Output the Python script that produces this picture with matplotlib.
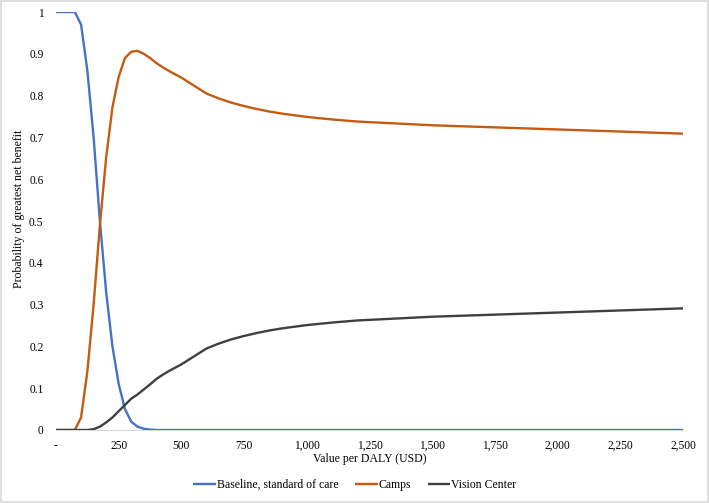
import matplotlib
matplotlib.use("Agg")
import matplotlib.pyplot as plt
from matplotlib.ticker import FuncFormatter
from matplotlib.patches import Rectangle

plt.rcParams['font.family'] = ['Liberation Serif', 'DejaVu Serif']

value_per_daly = [0, 25, 50, 75, 100, 125, 150, 175, 200, 225, 250, 275, 300, 325, 350,
                  375, 400, 425, 450, 475, 500, 550, 600, 650, 700, 750, 800, 850, 900,
                  950, 1000, 1100, 1200, 1300, 1400, 1500, 1600, 1700, 1800, 1900, 2000,
                  2100, 2200, 2300, 2400, 2500]

baseline = [1, 1, 1, 1, 0.97, 0.86, 0.70, 0.50, 0.33, 0.20, 0.11, 0.05, 0.02, 0.008, 0.003,
            0.001, 0, 0, 0, 0, 0, 0, 0, 0, 0, 0, 0, 0, 0,
            0, 0, 0, 0, 0, 0, 0, 0, 0, 0, 0, 0,
            0, 0, 0, 0, 0]

camps = [0, 0, 0, 0, 0.03, 0.14, 0.30, 0.49, 0.652, 0.772, 0.845, 0.89, 0.905, 0.907, 0.90,
         0.89, 0.878, 0.868, 0.859, 0.851, 0.843, 0.824, 0.805, 0.793, 0.783, 0.775, 0.768,
         0.762, 0.757, 0.753, 0.749, 0.743, 0.738, 0.735, 0.732, 0.729, 0.727, 0.725,
         0.723, 0.721, 0.719, 0.717, 0.715, 0.713, 0.711, 0.709]

vision_center = [0, 0, 0, 0, 0, 0, 0.002, 0.008, 0.018, 0.03, 0.045, 0.06, 0.075, 0.085, 0.097,
                 0.109, 0.122, 0.132, 0.141, 0.149, 0.157, 0.176, 0.195, 0.207, 0.217, 0.225,
                 0.232, 0.238, 0.243, 0.247, 0.251, 0.257, 0.262, 0.265, 0.268, 0.271,
                 0.273, 0.275, 0.277, 0.279, 0.281, 0.283, 0.285, 0.287, 0.289, 0.291]

series_names = ["Baseline, standard of care", "Camps", "Vision Center"]
colors = ["#4472C4", "#C55A11", "#3F3F3F"]

FS = 8.3

fig = plt.figure(figsize=(7.09, 5.03), dpi=100)
fig.patches.append(Rectangle((0.002, 0.002), 0.996, 0.996, transform=fig.transFigure,
                             fill=False, edgecolor="#D9D9D9", linewidth=1.2))
ax = fig.add_axes([56 / 709, 1 - 430 / 503, (683 - 56) / 709, (430 - 12) / 503])

for vals, name, c in zip([baseline, camps, vision_center], series_names, colors):
    ax.plot(value_per_daly, vals, color=c, linewidth=1.7, label=name, solid_capstyle='butt')

ax.set_xlim(0, 2500)
ax.set_ylim(0, 1)
ax.set_xticks(range(0, 2501, 250))
ax.set_yticks([i / 10 for i in range(11)])
ax.xaxis.set_major_formatter(FuncFormatter(lambda v, p: "-" if v == 0 else f"{int(v):,}"))
ax.yaxis.set_major_formatter(FuncFormatter(lambda v, p: "0" if v == 0 else ("1" if v == 1 else f"{v:.1f}")))
for s in ["top", "right", "left"]:
    ax.spines[s].set_visible(False)
ax.spines["bottom"].set_color("#D9D9D9")
ax.spines["bottom"].set_zorder(0)
ax.tick_params(axis="both", length=0, labelsize=FS, colors="black")
ax.tick_params(axis="x", pad=7)
ax.tick_params(axis="y", pad=9)

ax.set_xlabel("Value per DALY (USD)", fontsize=FS + 0.2)
ax.xaxis.set_label_coords(0.5, (430 - 459) / 418)
ax.xaxis.label.set_va("center")
ax.set_ylabel("Probability of greatest net benefit", fontsize=FS + 0.2)
ax.yaxis.set_label_coords((19 - 56) / 627, 0.53)
ax.yaxis.label.set_va("center")

fig.legend(loc="center", bbox_to_anchor=(355 / 709, 1 - 485 / 503), ncol=3, frameon=False,
           fontsize=FS + 0.2, handlelength=1.9, handletextpad=0.1, columnspacing=1.4,
           borderaxespad=0, borderpad=0)

fig.savefig("out.png", dpi=100)
